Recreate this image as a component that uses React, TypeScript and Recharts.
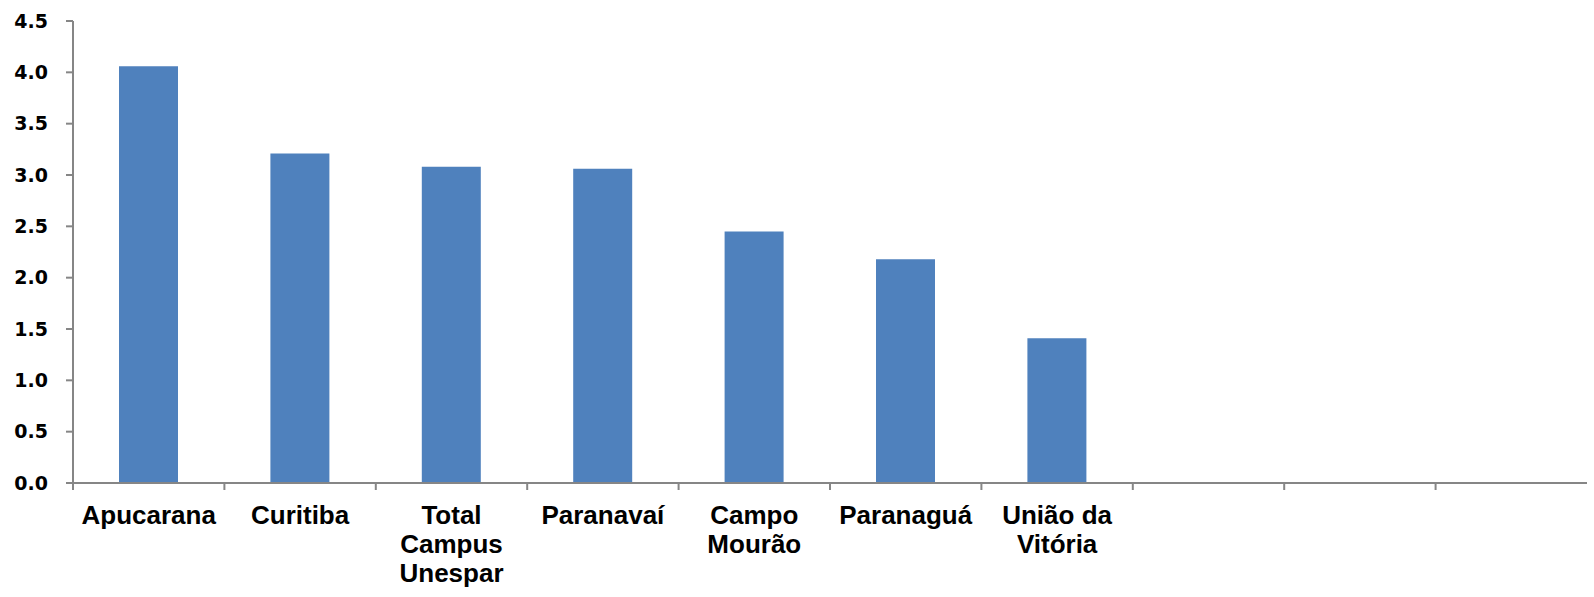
import { Bar, BarChart, XAxis, YAxis } from 'recharts';

const categories = [
  'Apucarana',
  'Curitiba',
  'Total\nCampus\nUnespar',
  'Paranavaí',
  'Campo\nMourão',
  'Paranaguá',
  'União da\nVitória',
  '',
  '',
  '',
];
const values = [4.06, 3.21, 3.08, 3.06, 2.45, 2.18, 1.41, null, null, null];
const yTicks = [0, 0.5, 1, 1.5, 2, 2.5, 3, 3.5, 4, 4.5];

const data = categories.map((name, i) => ({ name, value: values[i] }));

const WIDTH = 1594;
const HEIGHT = 597;
const MARGIN = { top: 21, right: 7, left: 0, bottom: 0 };
const Y_AXIS_W = 73;
const BAND = (WIDTH - MARGIN.right - Y_AXIS_W) / categories.length;
const AXIS_COLOR = '#868686';

const CategoryTick = (props: any) => {
  const { x, y, payload } = props;
  const lines = String(payload.value).split('\n');
  const left = x - BAND / 2;
  return (
    <g>
      <line x1={left} y1={y} x2={left} y2={y + 7} stroke={AXIS_COLOR} strokeWidth={2} />
      <text
        x={x}
        y={y + 41}
        textAnchor="middle"
        fill="#000"
        fontFamily="'Liberation Sans', Arial, sans-serif"
        fontWeight="bold"
        fontSize={26}
      >
        {lines.map((line, i) => (
          <tspan key={i} x={x} dy={i === 0 ? 0 : 29}>
            {line}
          </tspan>
        ))}
      </text>
    </g>
  );
};

export default function App() {
  return (
    <div style={{ position: 'absolute', left: 0, top: 0, background: '#fff' }}>
      <BarChart width={WIDTH} height={HEIGHT} data={data} margin={MARGIN}>
        <XAxis
          dataKey="name"
          height={114}
          axisLine={{ stroke: AXIS_COLOR, strokeWidth: 2 }}
          tickLine={false}
          tickSize={0}
          tickMargin={0}
          interval={0}
          tick={<CategoryTick />}
        />
        <YAxis
          width={Y_AXIS_W}
          domain={[0, 4.5]}
          ticks={yTicks}
          interval={0}
          tickFormatter={(v: number) => v.toFixed(1)}
          axisLine={{ stroke: AXIS_COLOR, strokeWidth: 2 }}
          tickLine={{ stroke: AXIS_COLOR, strokeWidth: 2 }}
          tickSize={7}
          tickMargin={18}
          tick={{
            fill: '#000',
            fontFamily: "'DejaVu Sans', Verdana, sans-serif",
            fontWeight: 'bold',
            fontSize: 19,
          }}
        />
        <Bar dataKey="value" fill="#4F81BD" barSize={59} isAnimationActive={false} />
      </BarChart>
    </div>
  );
}
